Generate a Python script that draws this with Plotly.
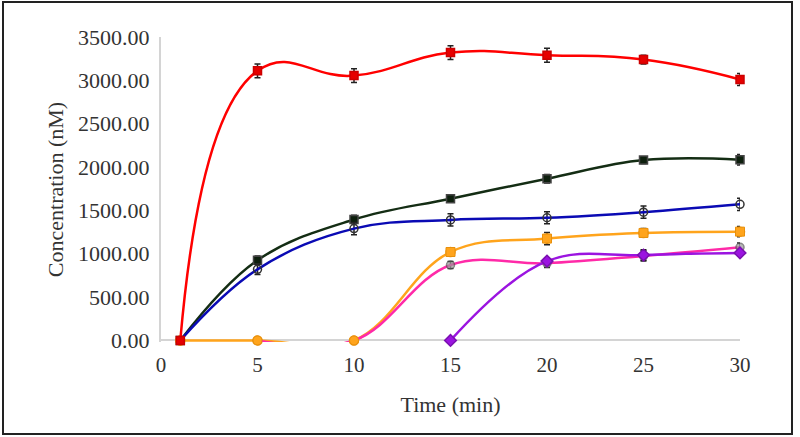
import plotly.graph_objects as go

# ---- data ----
time_pts = [1, 5, 10, 15, 20, 25, 30]

red_vals = [0, 3110, 3055, 3320, 3290, 3240, 3010]
red_err = [0, 80, 80, 80, 80, 50, 70]

green_vals = [0, 925, 1395, 1635, 1865, 2080, 2085]
green_err = [0, 50, 50, 40, 50, 40, 60]

blue_vals = [0, 820, 1290, 1390, 1415, 1480, 1570]
blue_err = [0, 60, 70, 70, 70, 70, 70]

orange_vals = [0, 0, 0, 1020, 1175, 1240, 1255]
orange_err = [0, 0, 0, 50, 70, 50, 60]

pink_time = [5, 10, 15, 20, 25, 30]
pink_vals = [0, 0, 870, 890, 975, 1075]
pink_err = [0, 0, 40, 50, 60, 50]

purple_time = [15, 20, 25, 30]
purple_vals = [0, 915, 985, 1010]
purple_err = [0, 40, 60, 40]

x_ticks = [0, 5, 10, 15, 20, 25, 30]
y_ticks = [0, 500, 1000, 1500, 2000, 2500, 3000, 3500]
y_tick_text = ["%.2f" % v for v in y_ticks]

# ---- figure ----
W, H = 800, 437
ML, MR, MT, MB = 161, 60, 37, 95

fig = go.Figure()


def add_series(x, y, err, color, symbol, mcolor, mline, msize=8, smoothing=1.1, width=2.5):
    fig.add_trace(go.Scatter(
        x=x, y=y, mode="lines+markers", cliponaxis=False,
        line=dict(color=color, width=width, shape="spline", smoothing=smoothing),
        marker=dict(symbol=symbol, size=msize, color=mcolor,
                    line=dict(color=mline, width=1.5)),
        error_y=dict(type="data", array=err, visible=True,
                     color="#222222", thickness=1.5, width=3),
        showlegend=False,
    ))


add_series(time_pts, green_vals, green_err, "#142d14", "square", "#0d1f0d", "#444444")
add_series(time_pts, blue_vals, blue_err, "#0a0ab4", "circle-open", "#333333", "#333333")
add_series(time_pts, orange_vals, orange_err, "#ffa41c", "circle", "#ffa41c", "#e8900c", 9)
add_series(pink_time, pink_vals, pink_err, "#ff2aa8", "circle", "#9a9a9a", "#555555")
# keep the orange baseline markers visible on top of the pink line
fig.data[-1].marker.size = [0, 0, 8, 8, 8, 8]
fig.add_trace(go.Scatter(
    x=time_pts[3:], y=orange_vals[3:], mode="markers", cliponaxis=False,
    marker=dict(symbol="square", size=9, color="#ffa41c", line=dict(color="#e8900c", width=1)),
    showlegend=False,
))
fig.add_trace(go.Scatter(
    x=time_pts[:3], y=orange_vals[:3], mode="markers", cliponaxis=False,
    marker=dict(symbol="circle", size=9, color="#ffa41c", line=dict(color="#e8900c", width=1)),
    showlegend=False,
))
add_series(purple_time, purple_vals, purple_err, "#9b14e0", "diamond", "#9b14e0", "#7a10b0", 9)
add_series(time_pts, red_vals, red_err, "#ff0000", "square", "#e60000", "#cc0000", 8, 1.3)

font_family = "Liberation Serif, Times New Roman, serif"

fig.update_layout(
    width=W, height=H,
    margin=dict(l=ML, r=MR, t=MT, b=MB),
    paper_bgcolor="white", plot_bgcolor="white",
    font=dict(family=font_family, color="#333333", size=20),
    xaxis=dict(
        range=[0, 30], tickvals=x_ticks, ticks="", showgrid=False,
        zeroline=False, showline=False,
        tickfont=dict(size=21, family=font_family, color="#333333"),
        ticklabelstandoff=8,
        title=dict(text="Time (min)", font=dict(size=22, family=font_family, color="#333333"), standoff=20),
    ),
    yaxis=dict(
        range=[-18, 3500], tickvals=y_ticks, ticktext=y_tick_text, ticks="",
        showgrid=False, zeroline=True, zerolinecolor="#d4d4d4", zerolinewidth=2,
        showline=True, linecolor="#d4d4d4", linewidth=2, layer="below traces",
        tickfont=dict(size=22, family=font_family, color="#333333"),
        ticklabelstandoff=5,
        title=dict(text="Concentration (nM)", font=dict(size=22, family=font_family, color="#333333"), standoff=8),
    ),
)

# outer frame around the whole picture
pw = W - ML - MR
ph = H - MT - MB
x0p, x1p = 3, 792
y0p, y1p = 2, 434
fig.add_shape(type="rect", xref="paper", yref="paper",
              x0=(x0p - ML) / pw, x1=(x1p - ML) / pw,
              y0=(H - MB - y1p) / ph, y1=(H - MB - y0p) / ph,
              line=dict(color="#222222", width=2), layer="below")

fig.write_html("out.html", config={"displayModeBar": False},
               post_script="document.body.style.margin='0';document.body.style.overflow='hidden';")
